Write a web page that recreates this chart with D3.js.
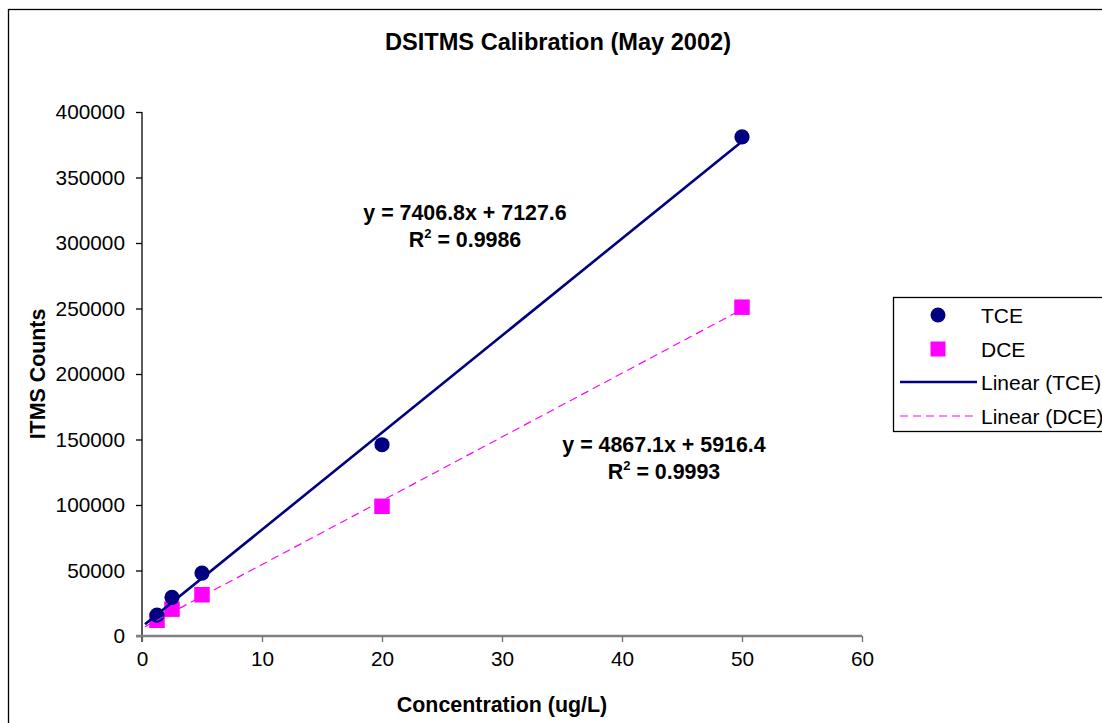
<!DOCTYPE html>
<html>
<head>
<meta charset="utf-8">
<script src="https://cdn.jsdelivr.net/npm/d3@7"></script>
<style>
  html, body { margin: 0; padding: 0; background: #fff; }
  svg { display: block; font-family: "Liberation Sans", Arial, sans-serif; }
</style>
</head>
<body>
<svg id="chart" width="1102" height="723"></svg>
<script>
// Calibration standards (ug/L) and instrument response
const concentration = [1.25, 2.5, 5, 20, 50];
const tceCounts = [16000, 29500, 48000, 146000, 381000];
const dceCounts = [12000, 20500, 31500, 99000, 251000];

// Least-squares fits as reported on the chart
const tceFit = { slope: 7406.8, intercept: 7127.6, r2: "0.9986" };
const dceFit = { slope: 4867.1, intercept: 5916.4, r2: "0.9993" };
const trendRange = [0.25, 50]; // fitted lines span the standards, extended back one unit

const xTicks = [0, 10, 20, 30, 40, 50, 60];
const yTicks = [0, 50000, 100000, 150000, 200000, 250000, 300000, 350000, 400000];

const legendLabels = ["TCE", "DCE", "Linear (TCE)", "Linear (DCE)"];

const NAVY = "#000080", MAGENTA = "#ff00ff";

const svg = d3.select("#chart");

// outer chart frame
svg.append("rect")
  .attr("x", 8.5).attr("y", 9.5).attr("width", 1120).attr("height", 740)
  .attr("fill", "#fff").attr("stroke", "#000").attr("stroke-width", 1.3);

const x = d3.scaleLinear().domain([0, 60]).range([142, 862]);
const y = d3.scaleLinear().domain([0, 400000]).range([636, 112]);

// title
svg.append("text")
  .attr("x", 558).attr("y", 50)
  .attr("text-anchor", "middle")
  .attr("font-size", 23.6).attr("font-weight", "bold")
  .text("DSITMS Calibration (May 2002)");

// y axis
const yAxis = svg.append("g")
  .attr("transform", `translate(${x(0)},0)`)
  .call(d3.axisLeft(y).tickValues(yTicks).tickFormat(d3.format("d")).tickSize(6).tickSizeOuter(0).tickPadding(11));
yAxis.select(".domain").attr("stroke", "#000").attr("stroke-width", 1.3)
  .attr("d", `M0,${y(400000)}V${y(0) + 6}`);
yAxis.selectAll(".tick line").attr("stroke", "#000").attr("stroke-width", 1.3);
yAxis.selectAll(".tick text").attr("font-size", 20.8).attr("fill", "#000")
  .attr("font-family", "'Liberation Sans', Arial, sans-serif");

// x axis
const xAxis = svg.append("g")
  .attr("transform", `translate(0,${y(0)})`)
  .call(d3.axisBottom(x).tickValues(xTicks).tickFormat(d3.format("d")).tickSize(6).tickSizeOuter(0).tickPadding(9));
xAxis.select(".domain").attr("stroke", "#808080").attr("stroke-width", 2.5)
  .attr("d", `M${x(0) - 6},0H${x(60)}`);
xAxis.selectAll(".tick line").attr("stroke", "#6e6e6e").attr("stroke-width", 1.3);
xAxis.selectAll(".tick text").attr("font-size", 20.8).attr("fill", "#000")
  .attr("font-family", "'Liberation Sans', Arial, sans-serif");

// axis titles
svg.append("text")
  .attr("x", 502).attr("y", 712)
  .attr("text-anchor", "middle")
  .attr("font-size", 21.4).attr("font-weight", "bold")
  .text("Concentration (ug/L)");

svg.append("text")
  .attr("transform", "translate(45,374) rotate(-90)")
  .attr("text-anchor", "middle")
  .attr("font-size", 21.4).attr("font-weight", "bold")
  .text("ITMS Counts");

// markers
const sq = 15.5;
svg.append("g").selectAll("rect")
  .data(concentration.map((c, i) => [c, dceCounts[i]]))
  .join("rect")
  .attr("x", d => x(d[0]) - sq / 2).attr("y", d => y(d[1]) - sq / 2)
  .attr("width", sq).attr("height", sq)
  .attr("fill", MAGENTA);

svg.append("g").selectAll("circle")
  .data(concentration.map((c, i) => [c, tceCounts[i]]))
  .join("circle")
  .attr("cx", d => x(d[0])).attr("cy", d => y(d[1]))
  .attr("r", 7.6)
  .attr("fill", NAVY);

// trend lines
const fitLine = f => trendRange.map(c => [x(c), y(f.slope * c + f.intercept)]);
svg.append("path")
  .attr("d", d3.line()(fitLine(dceFit)))
  .attr("fill", "none").attr("stroke", MAGENTA).attr("stroke-width", 1.2)
  .attr("stroke-dasharray", "8,5");
svg.append("path")
  .attr("d", d3.line()(fitLine(tceFit)))
  .attr("fill", "none").attr("stroke", NAVY).attr("stroke-width", 2.6);

// fit equations
function equation(f, cx, by) {
  svg.append("text")
    .attr("x", cx).attr("y", by)
    .attr("text-anchor", "middle")
    .attr("font-size", 21.4).attr("font-weight", "bold")
    .text(`y = ${f.slope}x + ${f.intercept}`);
  const t = svg.append("text")
    .attr("x", cx).attr("y", by + 27)
    .attr("text-anchor", "middle")
    .attr("font-size", 21.4).attr("font-weight", "bold");
  t.append("tspan").text("R");
  t.append("tspan").attr("font-size", 13).attr("dy", -9).text("2");
  t.append("tspan").attr("dy", 9).text(` = ${f.r2}`);
}
equation(tceFit, 465, 219.5);
equation(dceFit, 664, 452);

// legend
const lg = svg.append("g");
lg.append("rect")
  .attr("x", 893.5).attr("y", 297.5).attr("width", 240).attr("height", 134)
  .attr("fill", "#fff").attr("stroke", "#000").attr("stroke-width", 1.3);
const rowY = [315, 349, 382, 416];
lg.append("circle").attr("cx", 938).attr("cy", rowY[0]).attr("r", 7.5).attr("fill", NAVY);
lg.append("rect").attr("x", 938 - 7.5).attr("y", rowY[1] - 7.5).attr("width", 15).attr("height", 15).attr("fill", MAGENTA);
lg.append("line").attr("x1", 900).attr("x2", 977).attr("y1", rowY[2]).attr("y2", rowY[2])
  .attr("stroke", NAVY).attr("stroke-width", 2.6);
lg.append("line").attr("x1", 900).attr("x2", 977).attr("y1", rowY[3]).attr("y2", rowY[3])
  .attr("stroke", MAGENTA).attr("stroke-width", 1.2).attr("stroke-dasharray", "8,5");
lg.selectAll("text.lbl")
  .data(legendLabels)
  .join("text")
  .attr("class", "lbl")
  .attr("x", 981).attr("y", (d, i) => rowY[i] + 7.5)
  .attr("font-size", 21)
  .text(d => d);
</script>
</body>
</html>
